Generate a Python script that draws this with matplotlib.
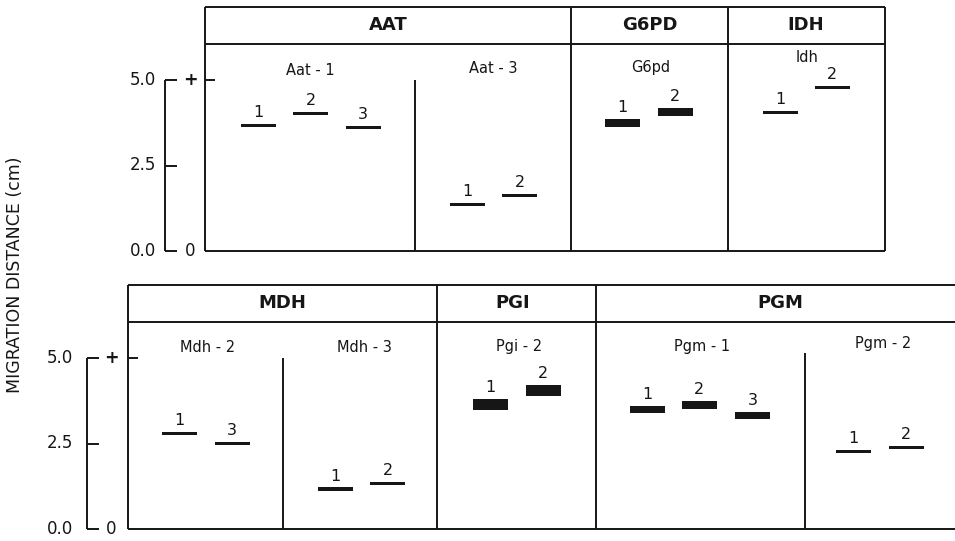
import matplotlib
matplotlib.use("Agg")
import matplotlib.pyplot as plt

# ---------------- data ----------------
enzymes_top = ["AAT", "G6PD", "IDH"]
enzymes_bottom = ["MDH", "PGI", "PGM"]

aat1_alleles = ["1", "2", "3"]
aat1_mob = [3.68, 4.01, 3.62]
aat3_alleles = ["1", "2"]
aat3_mob = [1.35, 1.62]
g6pd_alleles = ["1", "2"]
g6pd_mob = [3.74, 4.06]
idh_alleles = ["1", "2"]
idh_mob = [4.04, 4.79]
mdh2_alleles = ["1", "3"]
mdh2_mob = [2.80, 2.51]
mdh3_alleles = ["1", "2"]
mdh3_mob = [1.17, 1.32]
pgi2_alleles = ["1", "2"]
pgi2_mob = [3.64, 4.05]
pgm1_alleles = ["1", "2", "3"]
pgm1_mob = [3.49, 3.63, 3.32]
pgm2_alleles = ["1", "2"]
pgm2_mob = [2.26, 2.39]

yticks = [0.0, 2.5, 5.0]
ytick_labels = ["0.0", "2.5", "5.0"]
ylabel = "MIGRATION DISTANCE (cm)"

# ---------------- layout (pixels / cm) ----------------
W, H = 955, 541
S = 34.2  # px per cm

fig = plt.figure(figsize=(W / 100, H / 100), dpi=100)


def make_axes(px_top, px_bot, zero_px):
    ax = fig.add_axes([0, 1 - px_bot / H, 1, (px_bot - px_top) / H])
    ax.set_xlim(0, W)
    ax.set_ylim(-(px_bot - zero_px) / S, (zero_px - px_top) / S)
    ax.axis("off")
    return ax


ax_top = make_axes(0, 270, 251)
ax_bot = make_axes(270, 541, 529)

LW = 1.4
K = "#161616"

def vline(ax, x, y0, y1, lw=LW):
    ax.plot([x, x], [y0, y1], color=K, lw=lw, solid_capstyle="butt", clip_on=False)

def hline(ax, x0, x1, y, lw=LW):
    ax.plot([x0, x1], [y, y], color=K, lw=lw, solid_capstyle="butt", clip_on=False)


def frame(ax, x0, x1, top, head, dividers, locus_divs, enzymes, enz_x):
    hline(ax, x0, x1, top)
    hline(ax, x0, x1, head)
    hline(ax, x0, x1, 0)
    vline(ax, x0, 0, top)
    if x1 < W:
        vline(ax, x1, 0, top)
    for d in dividers:
        vline(ax, d, 0, top)
    for (d, ytop) in locus_divs:
        vline(ax, d, 0, ytop)
    for name, ex in zip(enzymes, enz_x):
        ax.text(ex, (top + head) / 2, name, ha="center", va="center",
                fontsize=13, color=K, fontweight="bold")
    # small tick on box edge at 5.0
    hline(ax, x0, x0 + 10, 5.0)


def bracket(ax, xb, xlab, xplus):
    vline(ax, xb, 0, 5.0)
    for t, lab in zip(yticks, ytick_labels):
        hline(ax, xb - LW * 0.3, xb + 12, t)
        ax.text(xlab, t, lab, ha="right", va="center", fontsize=12, color=K)
    ax.text(xplus, 5.0, "+", ha="center", va="center", fontsize=12.5, color=K,
            fontweight="bold")
    ax.text(xplus, 0.0, "0", ha="center", va="center", fontsize=12, color=K)


def locus(ax, name, lx, ly, lanes, alleles, mob, h):
    ax.text(lx, ly, name, ha="center", va="baseline", fontsize=10.5, color=K)
    ax.bar(lanes, [h] * len(mob), bottom=[m - h / 2 for m in mob], width=35,
           color=K, edgecolor="none")
    for xl, a, m in zip(lanes, alleles, mob):
        ax.text(xl, m + h / 2 + 0.2, a, ha="center", va="baseline",
                fontsize=11.5, color=K)


# ---- top panel ----
top_c = (251 - 7) / S
head_c = (251 - 44) / S
frame(ax_top, 205, 885, top_c, head_c, [571, 728], [(415, 5.0)],
      enzymes_top, [388, 650, 806])
bracket(ax_top, 165, 156, 190)
thin = 0.09
locus(ax_top, "Aat - 1", 310, (251 - 75) / S, [258.5, 310.5, 363], aat1_alleles, aat1_mob, thin)
locus(ax_top, "Aat - 3", 493, (251 - 73) / S, [467, 519.5], aat3_alleles, aat3_mob, thin)
locus(ax_top, "G6pd", 651, (251 - 72) / S, [622.5, 675], g6pd_alleles, g6pd_mob, 0.23)
locus(ax_top, "Idh", 807, (251 - 62) / S, [780, 832], idh_alleles, idh_mob, thin)

# ---- bottom panel ----
top_b = (529 - 285) / S
head_b = (529 - 322) / S
frame(ax_bot, 128, W + 5, top_b, head_b, [437, 596],
      [(283, 5.0), (805, (529 - 353) / S)], enzymes_bottom, [282, 513, 780])
bracket(ax_bot, 87, 73, 111)
locus(ax_bot, "Mdh - 2", 208, (529 - 352) / S, [179.5, 232], mdh2_alleles, mdh2_mob, thin)
locus(ax_bot, "Mdh - 3", 364, (529 - 352) / S, [335.5, 387.5], mdh3_alleles, mdh3_mob, thin)
locus(ax_bot, "Pgi - 2", 519, (529 - 351) / S, [490.5, 543], pgi2_alleles, pgi2_mob, 0.35)
locus(ax_bot, "Pgm - 1", 702, (529 - 351) / S, [647, 699, 752.5], pgm1_alleles, pgm1_mob, 0.22)
locus(ax_bot, "Pgm - 2", 883, (529 - 348) / S, [853.5, 906], pgm2_alleles, pgm2_mob, thin)

fig.text(15 / W, 1 - 275 / H, ylabel, rotation=90, ha="center", va="center",
         fontsize=12.5, color=K)

fig.savefig("out.png", dpi=100, facecolor="white")
